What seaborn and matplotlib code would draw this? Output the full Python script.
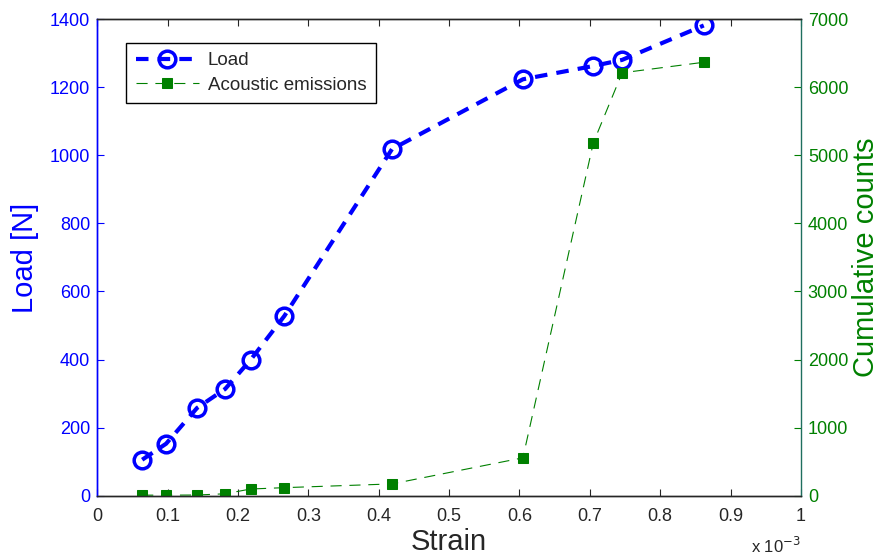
import numpy as np
import pandas as pd
import matplotlib
matplotlib.use('Agg')
import matplotlib.pyplot as plt
import seaborn as sns

# Datos (deformación en unidades de 1e-3)
strain = [0.064, 0.098, 0.142, 0.182, 0.218, 0.266, 0.419, 0.605, 0.705, 0.746, 0.862]
load_n = [106, 153, 258, 314, 399, 528, 1018, 1223, 1262, 1280, 1381]
ae_counts = [10, 10, 12, 30, 100, 120, 175, 558, 5180, 6210, 6365]

df = pd.DataFrame({'Strain': strain, 'Load': load_n, 'AE': ae_counts})

sns.set_style('ticks')
plt.rcParams['font.family'] = ['Liberation Sans', 'DejaVu Sans']

blue = '#0000ff'
green = '#008000'

fig, ax = plt.subplots(figsize=(8.83, 5.59), dpi=100)
fig.subplots_adjust(left=0.110, right=0.907, top=0.966, bottom=0.113)
ax2 = ax.twinx()

sns.lineplot(data=df, x='Strain', y='Load', ax=ax, color=blue, linestyle=(0, (3, 2.2)),
             linewidth=3, marker='o', markersize=12, markerfacecolor='none',
             markeredgecolor=blue, markeredgewidth=2.5, label='Load', legend=False)
sns.lineplot(data=df, x='Strain', y='AE', ax=ax2, color=green, linestyle=(0, (10, 7)),
             linewidth=0.8, marker='s', markersize=7.5, markerfacecolor=green,
             markeredgecolor=green, label='Acoustic emissions', legend=False)

ax.set_xlim(0, 1)
ax.set_ylim(0, 1400)
ax2.set_ylim(0, 7000)
ax.set_xticks(np.arange(0, 1.01, 0.1))
ax.set_xticklabels(['0', '0.1', '0.2', '0.3', '0.4', '0.5', '0.6', '0.7', '0.8', '0.9', '1'])
ax.set_yticks(np.arange(0, 1401, 200))
ax2.set_yticks(np.arange(0, 7001, 1000))

ax.set_xlabel('Strain', fontsize=21, labelpad=2)
ax.set_ylabel('Load [N]', fontsize=21, color=blue, labelpad=8)
ax2.set_ylabel('Cumulative counts', fontsize=21, color=green, labelpad=3)

ax.tick_params(axis='x', direction='in', top=True, length=5, labelsize=13, pad=9)
ax.tick_params(axis='y', direction='in', colors=blue, length=5, labelsize=13, pad=5)
ax2.tick_params(axis='y', direction='in', colors=green, length=5, labelsize=13, pad=5)

for a in (ax, ax2):
    for s in a.spines.values():
        s.set_linewidth(1)
ax.spines['left'].set_color(blue)
ax2.spines['left'].set_color(blue)
ax2.spines['right'].set_color('#1f6f5f')
ax.spines['right'].set_visible(False)

ax.text(1.0, -0.105, r'x 10$^{-3}$', transform=ax.transAxes, ha='right',
        va='center', fontsize=12)

h1, l1 = ax.get_legend_handles_labels()
h2, l2 = ax2.get_legend_handles_labels()
leg = ax2.legend(h1 + h2, l1 + l2, loc='upper left', bbox_to_anchor=(0.028, 0.97),
                 fancybox=False, edgecolor='black', framealpha=1, fontsize=13.5,
                 handlelength=3.4, handletextpad=0.45, borderpad=0.5, labelspacing=0.4)
leg.get_frame().set_linewidth(1)

plt.savefig('out.png', dpi=100)
